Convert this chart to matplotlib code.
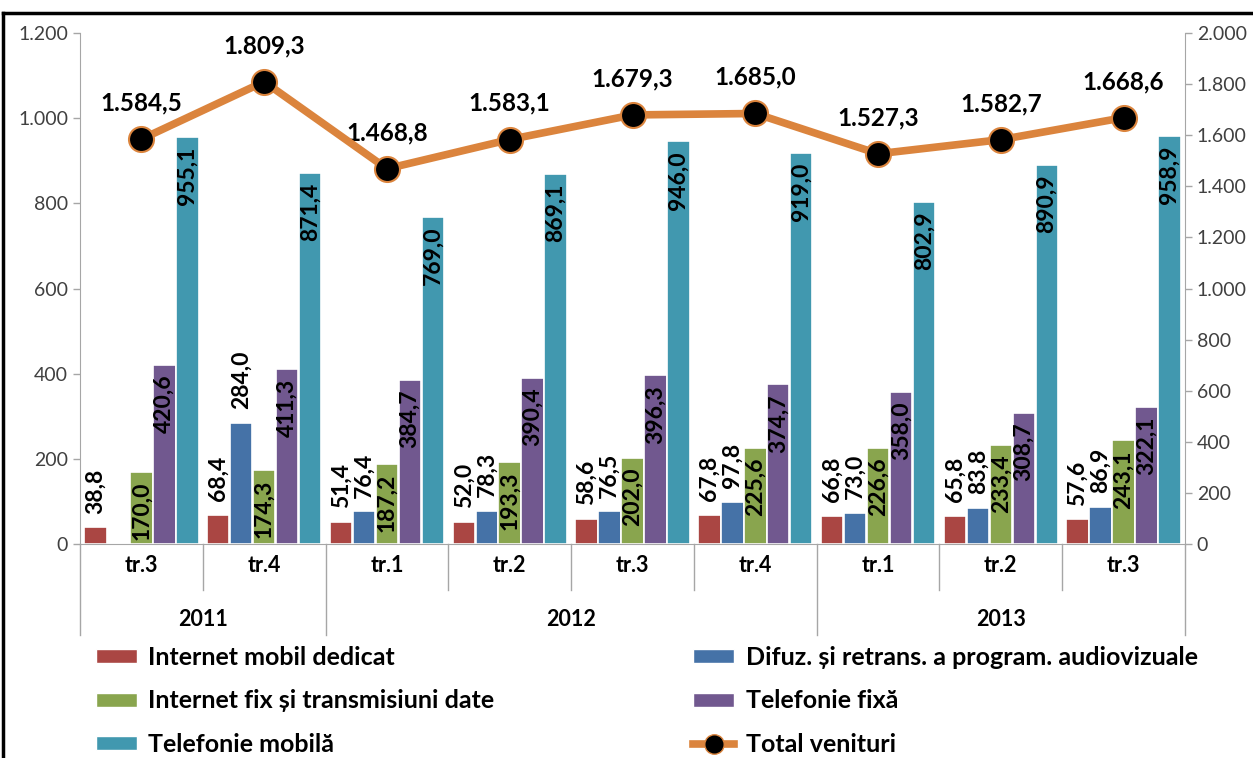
import matplotlib
matplotlib.use("Agg")
import matplotlib.pyplot as plt
import numpy as np
from matplotlib.patches import Patch
from matplotlib.lines import Line2D
import matplotlib.transforms as mtransforms

plt.rcParams['font.family'] = ['Lato', 'DejaVu Sans']

quarters = ["tr.3", "tr.4", "tr.1", "tr.2", "tr.3", "tr.4", "tr.1", "tr.2", "tr.3"]
years = ["2011", "2012", "2013"]
year_spans = [(0, 1), (2, 5), (6, 8)]

series_names = ["Internet mobil dedicat", "Difuz. și retrans. a program. audiovizuale",
                "Internet fix și transmisiuni date", "Telefonie fixă", "Telefonie mobilă"]
internet_mobil = [38.8, 68.4, 51.4, 52.0, 58.6, 67.8, 66.8, 65.8, 57.6]
difuz = [np.nan, 284.0, 76.4, 78.3, 76.5, 97.8, 73.0, 83.8, 86.9]
internet_fix = [170.0, 174.3, 187.2, 193.3, 202.0, 225.6, 226.6, 233.4, 243.1]
telefonie_fixa = [420.6, 411.3, 384.7, 390.4, 396.3, 374.7, 358.0, 308.7, 322.1]
telefonie_mobila = [955.1, 871.4, 769.0, 869.1, 946.0, 919.0, 802.9, 890.9, 958.9]
total_venituri = [1584.5, 1809.3, 1468.8, 1583.1, 1679.3, 1685.0, 1527.3, 1582.7, 1668.6]

colors = ["#AA4643", "#4572A7", "#89A54E", "#71588F", "#4198AF"]
line_color = "#DB843D"
label_inside = [False, False, True, True, True]


def ro(v, dec=1):
    s = f"{v:,.{dec}f}"
    return s.replace(",", "X").replace(".", ",").replace("X", ".")


fig = plt.figure(figsize=(12.53, 7.58), dpi=100)
W, H = 1253, 758
ax = fig.add_axes([80 / W, (H - 544) / H, 1105 / W, 511 / H])
ax2 = ax.twinx()

x = np.arange(len(quarters))
all_series = [internet_mobil, difuz, internet_fix, telefonie_fixa, telefonie_mobila]
pitch = 0.187
bw = 0.183
for i, (vals, c) in enumerate(zip(all_series, colors)):
    off = (i - 2) * pitch
    ax.bar(x + off, vals, width=bw, color=c, edgecolor="white", linewidth=1.2, zorder=2)
    for xi, v in zip(x + off, vals):
        if np.isnan(v):
            continue
        if label_inside[i]:
            ax.annotate(ro(v), (xi, v), xytext=(0, -7), textcoords="offset points",
                        rotation=90, ha="center", va="top", fontsize=16.5,
                        fontweight="bold", color="black", zorder=4)
        else:
            ax.annotate(ro(v), (xi, v), xytext=(0, 10), textcoords="offset points",
                        rotation=90, ha="center", va="bottom", fontsize=16.5,
                        fontweight="bold", color="black", zorder=4)

ax.set_xlim(-0.5, len(quarters) - 0.5)
ax.set_ylim(0, 1200)
ax.set_yticks(np.arange(0, 1201, 200))
ax.set_yticklabels([ro(v, 0) for v in np.arange(0, 1201, 200)])
ax2.set_ylim(0, 2000)
ax2.set_yticks(np.arange(0, 2001, 200))
ax2.set_yticklabels([ro(v, 0) for v in np.arange(0, 2001, 200)])

ax2.plot(x, total_venituri, color=line_color, linewidth=5.5, marker="o", markersize=18,
         markerfacecolor="black", markeredgecolor=line_color, markeredgewidth=1.5,
         zorder=5, solid_capstyle="round")
for xi, v in zip(x, total_venituri):
    ax2.annotate(ro(v), (xi, v), xytext=(0, 26), textcoords="offset points",
                 ha="center", va="center", fontsize=17.5, fontweight="bold", color="black")

ax.set_zorder(1)
ax2.set_zorder(2)
ax2.patch.set_visible(False)

gray = "#A6A6A6"
for a in (ax, ax2):
    for s in a.spines.values():
        s.set_visible(False)
ax.spines["left"].set_visible(True)
ax.spines["left"].set_color(gray)
ax2.spines["right"].set_visible(True)
ax2.spines["right"].set_color(gray)
ax.spines["bottom"].set_visible(True)
ax.spines["bottom"].set_color(gray)

ax.tick_params(axis="y", colors=gray, labelcolor="#404040", labelsize=14, length=5, width=1)
ax2.tick_params(axis="y", colors=gray, labelcolor="#404040", labelsize=14, length=5, width=1)
ax.set_xticks([])

# multi-level category axis
trans = mtransforms.blended_transform_factory(ax.transData, fig.transFigure)
y0 = (H - 544) / H
y_short = (H - 590) / H
y_long = (H - 635) / H
year_bounds = [e + 0.5 for (_, e) in year_spans[:-1]]
for b in np.arange(0.5, len(quarters) - 0.5, 1.0):
    is_year = any(abs(b - yb) < 1e-6 for yb in year_bounds)
    ax.add_line(Line2D([b, b], [y0, y_long if is_year else y_short], transform=trans,
                       color=gray, linewidth=1, clip_on=False))
for b in (-0.5, len(quarters) - 0.5):
    ax.add_line(Line2D([b, b], [y0, y_long], transform=trans, color=gray, linewidth=1, clip_on=False))
for xi, q in zip(x, quarters):
    ax.text(xi, (H - 566) / H, q, transform=trans, ha="center", va="center",
            fontsize=15.5, fontweight="bold", color="black")
for yr, (s, e) in zip(years, year_spans):
    ax.text((s + e) / 2, (H - 620) / H, yr, transform=trans, ha="center", va="center",
            fontsize=15.5, fontweight="bold", color="black")

# legends
leg_fs = 18
h_left = [Patch(facecolor=colors[0], edgecolor="white"), Patch(facecolor=colors[2], edgecolor="white"),
          Patch(facecolor=colors[4], edgecolor="white")]
l_left = [series_names[0], series_names[2], series_names[4]]
h_right = [Patch(facecolor=colors[1], edgecolor="white"), Patch(facecolor=colors[3], edgecolor="white"),
           Line2D([], [], color=line_color, linewidth=5.5, marker="o", markersize=14,
                  markerfacecolor="black", markeredgecolor=line_color)]
l_right = [series_names[1], series_names[3], "Total venituri"]
common = dict(frameon=False, handlelength=1.65, handleheight=0.5, handletextpad=0.45,
              labelspacing=0.82, borderpad=0, borderaxespad=0,
              prop={"family": ["Lato", "DejaVu Sans"], "weight": "bold", "size": leg_fs})
fig.legend(h_left, l_left, loc="upper left", bbox_to_anchor=(96 / W, (H - 646) / H), **common)
fig.legend(h_right, l_right, loc="upper left", bbox_to_anchor=(693 / W, (H - 646) / H), **common)

# outer frame lines
fig.add_artist(Line2D([3 / W, 1], [(H - 13) / H, (H - 13) / H], transform=fig.transFigure,
                      color="black", linewidth=2.5))
fig.add_artist(Line2D([3 / W, 3 / W], [0, (H - 13) / H], transform=fig.transFigure,
                      color="black", linewidth=2.5))

fig.savefig("out.png", dpi=100)
